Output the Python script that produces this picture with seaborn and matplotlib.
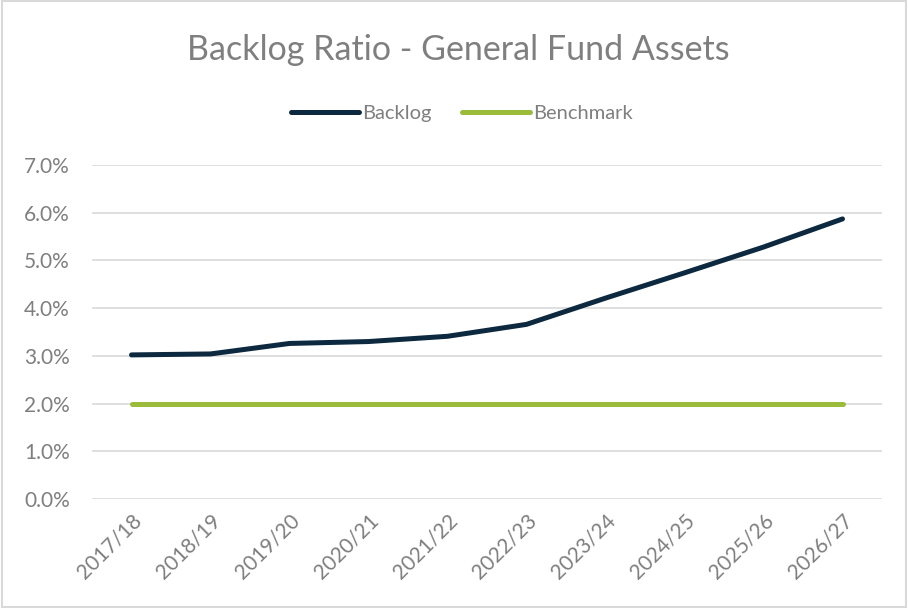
import matplotlib
matplotlib.use("Agg")
import matplotlib.pyplot as plt
import matplotlib.ticker as mtick
import seaborn as sns
import pandas as pd

years = ["2017/18", "2018/19", "2019/20", "2020/21", "2021/22",
         "2022/23", "2023/24", "2024/25", "2025/26", "2026/27"]
backlog = [3.02, 3.04, 3.26, 3.30, 3.41, 3.66, 4.21, 4.74, 5.28, 5.87]
benchmark = [2.0] * 10

df = pd.DataFrame({
    "year": years * 2,
    "value": [v / 100 for v in backlog + benchmark],
    "series": ["Backlog"] * 10 + ["Benchmark"] * 10,
})

sns.set_style("white")
plt.rcParams["font.family"] = ["Lato", "DejaVu Sans"]
grey = "#7f7f7f"

fig = plt.figure(figsize=(9.08, 6.08), dpi=100)
ax = fig.add_axes([92 / 908, 1 - 499 / 608, 790 / 908, 334 / 608])

sns.lineplot(data=df, x="year", y="value", hue="series", sort=False,
             palette={"Backlog": "#0c2940", "Benchmark": "#9bbb3a"},
             linewidth=3.6, ax=ax, legend=True)
for ln in ax.lines:
    ln.set_solid_capstyle("round")

ax.set_xlim(-0.5, 9.5)
ax.set_ylim(0, 0.07)
ax.set_yticks([i / 100 for i in range(8)])
ax.yaxis.set_major_formatter(mtick.PercentFormatter(1.0, decimals=1))
ax.yaxis.grid(True, color="#d9d9d9", linewidth=1.2)
ax.set_axisbelow(True)
for s in ax.spines.values():
    s.set_visible(False)
ax.set_xlabel("")
ax.set_ylabel("")
ax.tick_params(axis="y", colors=grey, labelsize=15, length=0, pad=16)
ax.tick_params(axis="x", colors=grey, labelsize=15, length=0, pad=8)
plt.setp(ax.get_xticklabels(), rotation=45, ha="right", rotation_mode="anchor")
for lab in ax.get_yticklabels():
    lab.set_horizontalalignment("right")

leg = ax.legend(loc="center", bbox_to_anchor=(462 / 908, 1 - 113 / 608),
                bbox_transform=fig.transFigure, ncol=2, frameon=False,
                fontsize=14.5, handlelength=3.4, handletextpad=0.15,
                columnspacing=1.5)
for t in leg.get_texts():
    t.set_color(grey)

fig.text(458 / 908, 1 - 50 / 608, "Backlog Ratio - General Fund Assets",
         ha="center", va="center", fontsize=24.5, color=grey)

fig.patches.append(plt.Rectangle((0.002, 0.002), 0.996, 0.996,
                                 transform=fig.transFigure, fill=False,
                                 edgecolor="#d9d9d9", linewidth=1.5))

fig.savefig("out.png", dpi=100)
